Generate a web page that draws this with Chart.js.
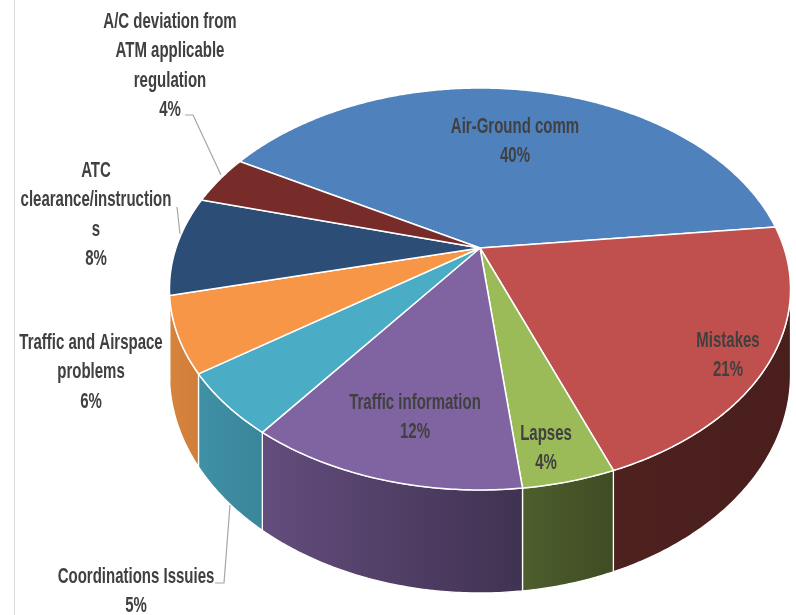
<!DOCTYPE html>
<html>
<head>
<meta charset="utf-8">
<script src="https://cdn.jsdelivr.net/npm/chart.js@4.4.1/dist/chart.umd.min.js"></script>
<style>
    html, body { margin: 0; padding: 0; background: #ffffff; }
    #wrap { width: 796px; height: 615px; }
</style>
</head>
<body>
<div id="wrap"><canvas id="pieChart" width="796" height="615"></canvas></div>
<script>
// Incident causes, share in percent
const categories = [
    'Air-Ground comm',
    'Mistakes',
    'Lapses',
    'Traffic information',
    'Coordinations Issuies',
    'Traffic and Airspace problems',
    'ATC clearance/instructions',
    'A/C deviation from ATM applicable regulation'
];
const shares = [40, 21, 4, 12, 5, 6, 8, 4];
const sliceColors = ['#4F81BD', '#C0504D', '#9BBB59', '#8064A2', '#4BACC6', '#F79646', '#2C4D75', '#772C2A'];

// Perspective of the tilted disc (apex, radii, perspective factor, thickness)
const view = { cx: 480, cy: 248, rx: 304, ry: 192.6, k: 0.204, depth: 82 };

// Label placement: centre x, first baseline, wrap width
const labelSpots = [
    { x: 515, y: 133, wrap: 300 },
    { x: 728, y: 347, wrap: 200 },
    { x: 546, y: 440, wrap: 100 },
    { x: 415, y: 409, wrap: 220 },
    { x: 136, y: 583, wrap: 300 },
    { x: 91,  y: 349, wrap: 150 },
    { x: 96,  y: 177, wrap: 155 },
    { x: 170, y: 28,  wrap: 145 }
];
const leaderLines = {
    4: [[230, 505], [224, 583], [215, 583]],
    6: [[177, 207], [180, 234]],
    7: [[185, 115], [193, 115], [221, 175]]
};
const LINE_GAP = 29.3;
const TEXT_STRETCH = 1.45;

function project(a, r, drop) {
    const u = r * Math.cos(a), v = r * Math.sin(a);
    const w = 1 - view.k * v;
    return [view.cx + view.rx * u / w, view.cy + (view.ry * v + drop) / w];
}

function shade(hex, f) {
    const n = parseInt(hex.slice(1), 16);
    const r = Math.round(((n >> 16) & 255) * f);
    const g = Math.round(((n >> 8) & 255) * f);
    const b = Math.round((n & 255) * f);
    return `rgb(${r},${g},${b})`;
}

function wallFactor(x) {
    return Math.max(0.38, Math.min(0.9, 0.87 - (x - 170) * 0.47 / 450));
}

function wrapText(ctx, text, maxW) {
    const words = text.split(' ');
    const lines = [];
    let cur = '';
    for (const w of words) {
        const test = cur ? cur + ' ' + w : w;
        if (ctx.measureText(test).width <= maxW) {
            cur = test;
            continue;
        }
        if (cur) lines.push(cur);
        cur = w;
        // break a single word that is still too long
        while (ctx.measureText(cur).width > maxW) {
            let i = cur.length - 1;
            while (i > 1 && ctx.measureText(cur.slice(0, i)).width > maxW) i--;
            lines.push(cur.slice(0, i));
            cur = cur.slice(i);
        }
    }
    if (cur) lines.push(cur);
    return lines;
}

const pie3d = {
    id: 'pie3d',
    beforeDraw(chart) {
        const ctx = chart.ctx;
        ctx.save();
        ctx.strokeStyle = '#D9D9D9';
        ctx.lineWidth = 1;
        ctx.beginPath();
        ctx.moveTo(14.5, 0);
        ctx.lineTo(14.5, chart.height);
        ctx.stroke();
        ctx.restore();
    },
    beforeDatasetsDraw(chart) {
        const ctx = chart.ctx;
        const arcs = chart.getDatasetMeta(0).data;
        const colors = chart.data.datasets[0].backgroundColor;
        const step = Math.PI / 360;
        const a0 = Math.asin(view.k);
        const a1 = Math.PI - a0;

        ctx.save();
        ctx.lineJoin = 'round';

        // side walls on the visible front rim
        arcs.forEach((arc, i) => {
            for (let n = -1; n <= 1; n++) {
                const lo = Math.max(arc.startAngle, a0 + n * 2 * Math.PI);
                const hi = Math.min(arc.endAngle, a1 + n * 2 * Math.PI);
                if (hi <= lo) continue;
                const top = [], bottom = [];
                for (let a = lo; a < hi; a += step) {
                    top.push(project(a, 1, 0));
                    bottom.push(project(a, 1, view.depth));
                }
                top.push(project(hi, 1, 0));
                bottom.push(project(hi, 1, view.depth));
                const xs = top.map(p => p[0]);
                const xMin = Math.min(...xs), xMax = Math.max(...xs);
                const grad = ctx.createLinearGradient(xMin, 0, xMax + 0.01, 0);
                grad.addColorStop(0, shade(colors[i], wallFactor(xMin)));
                grad.addColorStop(1, shade(colors[i], wallFactor(xMax)));
                ctx.beginPath();
                top.forEach((p, j) => j ? ctx.lineTo(p[0], p[1]) : ctx.moveTo(p[0], p[1]));
                for (let j = bottom.length - 1; j >= 0; j--) ctx.lineTo(bottom[j][0], bottom[j][1]);
                ctx.closePath();
                ctx.fillStyle = grad;
                ctx.fill();
                ctx.strokeStyle = '#ffffff';
                ctx.lineWidth = 1.3;
                ctx.stroke();
            }
        });

        // top faces
        arcs.forEach((arc, i) => {
            const c = project(0, 0, 0);
            ctx.beginPath();
            ctx.moveTo(c[0], c[1]);
            for (let a = arc.startAngle; a < arc.endAngle; a += step) {
                const p = project(a, 1, 0);
                ctx.lineTo(p[0], p[1]);
            }
            const e = project(arc.endAngle, 1, 0);
            ctx.lineTo(e[0], e[1]);
            ctx.closePath();
            ctx.fillStyle = colors[i];
            ctx.fill();
            ctx.strokeStyle = '#ffffff';
            ctx.lineWidth = 1.5;
            ctx.stroke();
        });

        // leader lines
        ctx.strokeStyle = '#A6A6A6';
        ctx.lineWidth = 1.2;
        Object.values(leaderLines).forEach(pts => {
            ctx.beginPath();
            pts.forEach((p, j) => j ? ctx.lineTo(p[0], p[1]) : ctx.moveTo(p[0], p[1]));
            ctx.stroke();
        });

        // data labels: category and percentage
        const total = shares.reduce((s, v) => s + v, 0);
        ctx.font = 'bold 15px "Liberation Sans", Arial, sans-serif';
        ctx.fillStyle = '#404040';
        ctx.textAlign = 'center';
        ctx.textBaseline = 'alphabetic';
        chart.data.labels.forEach((name, i) => {
            const spot = labelSpots[i];
            const pct = Math.round(chart.data.datasets[0].data[i] / total * 100) + '%';
            const lines = wrapText(ctx, name, spot.wrap).concat([pct]);
            lines.forEach((line, j) => {
                ctx.save();
                ctx.translate(spot.x, spot.y + j * LINE_GAP);
                ctx.scale(1, TEXT_STRETCH);
                ctx.fillText(line, 0, 0);
                ctx.restore();
            });
        });

        ctx.restore();
        return false;
    }
};

new Chart(document.getElementById('pieChart'), {
    type: 'pie',
    data: {
        labels: categories,
        datasets: [{
            data: shares,
            backgroundColor: sliceColors,
            borderColor: '#ffffff'
        }]
    },
    options: {
        responsive: false,
        animation: false,
        rotation: -60.4,
        plugins: {
            legend: { display: false },
            tooltip: { enabled: false }
        }
    },
    plugins: [pie3d]
});
</script>
</body>
</html>
